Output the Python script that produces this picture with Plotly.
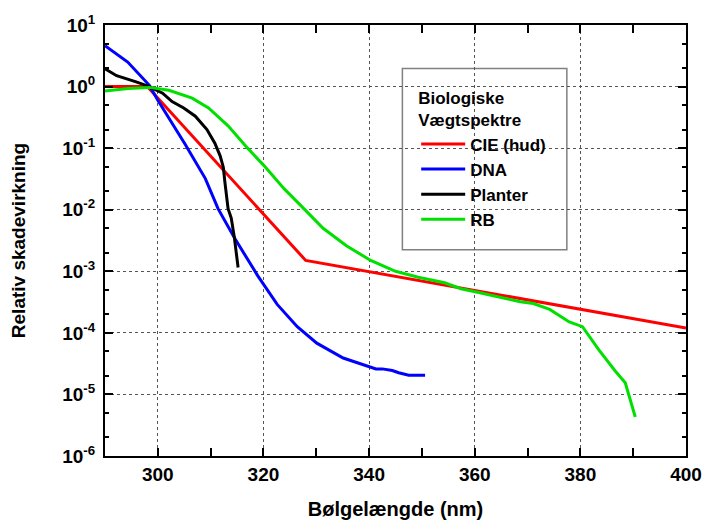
import plotly.graph_objects as go

# ---- data ----
wl_cie = [290, 298, 328, 400]
cie = [1.0, 1.0, 0.0015, 0.00012]

wl_dna = [290, 294.3, 298.4, 300, 305.2, 309, 311.4, 314.5, 318.9, 322.6, 326.4,
          330.1, 335.1, 337.0, 341.3, 342.5, 344.4, 345.6, 347.5, 350.6]
dna = [4.6, 2.5, 1.05, 0.6, 0.115, 0.032, 0.0104, 0.0035, 8.5e-4, 2.9e-4, 1.26e-4,
       6.8e-5, 3.9e-5, 3.45e-5, 2.6e-5, 2.6e-5, 2.45e-5, 2.25e-5, 2.05e-5, 2.05e-5]

wl_pl = [290, 292.2, 295.9, 298.4, 300.9, 302.7, 304.9, 307.1, 309.3, 310.8, 311.8,
         312.4, 312.7, 313.3, 313.9, 314.5, 315.2]
planter = [1.95, 1.5, 1.19, 1.0, 0.78, 0.57, 0.45, 0.33, 0.2, 0.12, 0.075,
           0.049, 0.028, 0.0104, 0.0073, 0.0035, 0.00115]

wl_rb = [290, 294.4, 298.4, 302.1, 306.5, 309.6, 313.3, 317.0, 320.1, 323.9, 328.2,
         331.3, 335.7, 340.3, 345.0, 349.3, 354.3, 357.4, 360.3, 364.9, 368.6, 371.1,
         374.2, 377.9, 380.4, 383.5, 386.6, 388.5, 390.4]
rb = [0.85, 0.93, 0.97, 0.87, 0.65, 0.45, 0.23, 0.10, 0.052, 0.022, 0.0093,
      0.005, 0.0026, 0.0015, 0.001, 8.0e-4, 6.5e-4, 5.2e-4, 4.6e-4, 3.8e-4, 3.2e-4, 3.0e-4,
      2.4e-4, 1.5e-4, 1.26e-4, 5.3e-5, 2.4e-5, 1.55e-5, 4.3e-6]

series_names = ["CIE (hud)", "DNA", "Planter", "RB"]
series_colors = ["#ff0000", "#0000ff", "#000000", "#00e000"]

x_tickvals = [300, 320, 340, 360, 380, 400]
y_tickvals = [1e1, 1e0, 1e-1, 1e-2, 1e-3, 1e-4, 1e-5, 1e-6]
y_ticktext = ["10<sup>1</sup>", "10<sup>0</sup>", "10<sup>-1</sup>", "10<sup>-2</sup>",
              "10<sup>-3</sup>", "10<sup>-4</sup>", "10<sup>-5</sup>", "10<sup>-6</sup>"]

FONT = "Arial, 'Liberation Sans', sans-serif"

fig = go.Figure()
for xs, ys, name, col in zip([wl_cie, wl_dna, wl_pl, wl_rb], [cie, dna, planter, rb],
                             series_names, series_colors):
    fig.add_trace(go.Scatter(x=xs, y=ys, mode="lines", name=name,
                             line=dict(color=col, width=3)))

fig.update_layout(
    width=714, height=529,
    margin=dict(l=105, r=19, t=24, b=68),
    paper_bgcolor="white", plot_bgcolor="white",
    font=dict(family=FONT, color="black", weight="bold"),
    legend=dict(
        x=(421 - 105) / 590, y=1 - (82 - 24) / 437, xanchor="left", yanchor="top",
        bgcolor="rgba(0,0,0,0)", borderwidth=0,
        font=dict(size=17, family=FONT, color="black", weight="bold"),
        title=dict(text="Biologiske<br>Vægtspektre",
                   font=dict(size=17, family=FONT, weight="bold")),
        itemwidth=44, tracegroupgap=0,
    ),
    showlegend=True,
)

fig.add_shape(type="rect", xref="paper", yref="paper",
              x0=(407 - 105) / 590, x1=(574 - 105) / 590,
              y0=1 - (252 - 24) / 437, y1=1 - (68 - 24) / 437,
              line=dict(color="#808080", width=1.5), fillcolor="white", layer="below")

fig.update_xaxes(
    range=[290, 400], showline=True, mirror="ticks", linecolor="black", linewidth=2,
    ticks="inside", ticklen=8, tickwidth=1.5, tickcolor="black",
    tickvals=x_tickvals, ticktext=[str(v) for v in x_tickvals],
    tickfont=dict(size=19, family=FONT, weight="bold"),
    showgrid=True, gridcolor="#555555", gridwidth=1, griddash="dot",
    minor=dict(ticks="inside", ticklen=8, tickwidth=1.5, tickcolor="black", dtick=10,
               showgrid=False),
    title=dict(text="Bølgelængde (nm)", font=dict(size=20, family=FONT, weight="bold"),
               standoff=18),
    zeroline=False,
)
fig.update_yaxes(
    type="log", range=[-6, 1], showline=True, mirror="ticks", linecolor="black", linewidth=2,
    ticks="inside", ticklen=8, tickwidth=1.5, tickcolor="black",
    tickvals=y_tickvals, ticktext=y_ticktext,
    tickfont=dict(size=19, family=FONT, weight="bold"), ticklabelstandoff=4,
    showgrid=True, gridcolor="#555555", gridwidth=1, griddash="dot",
    minor=dict(ticks="inside", ticklen=4, tickwidth=1.5, tickcolor="black", showgrid=False),
    title=dict(text="Relativ skadevirkning", font=dict(size=19, family=FONT, weight="bold"),
               standoff=32),
    zeroline=False,
)

fig.write_html("out.html")
